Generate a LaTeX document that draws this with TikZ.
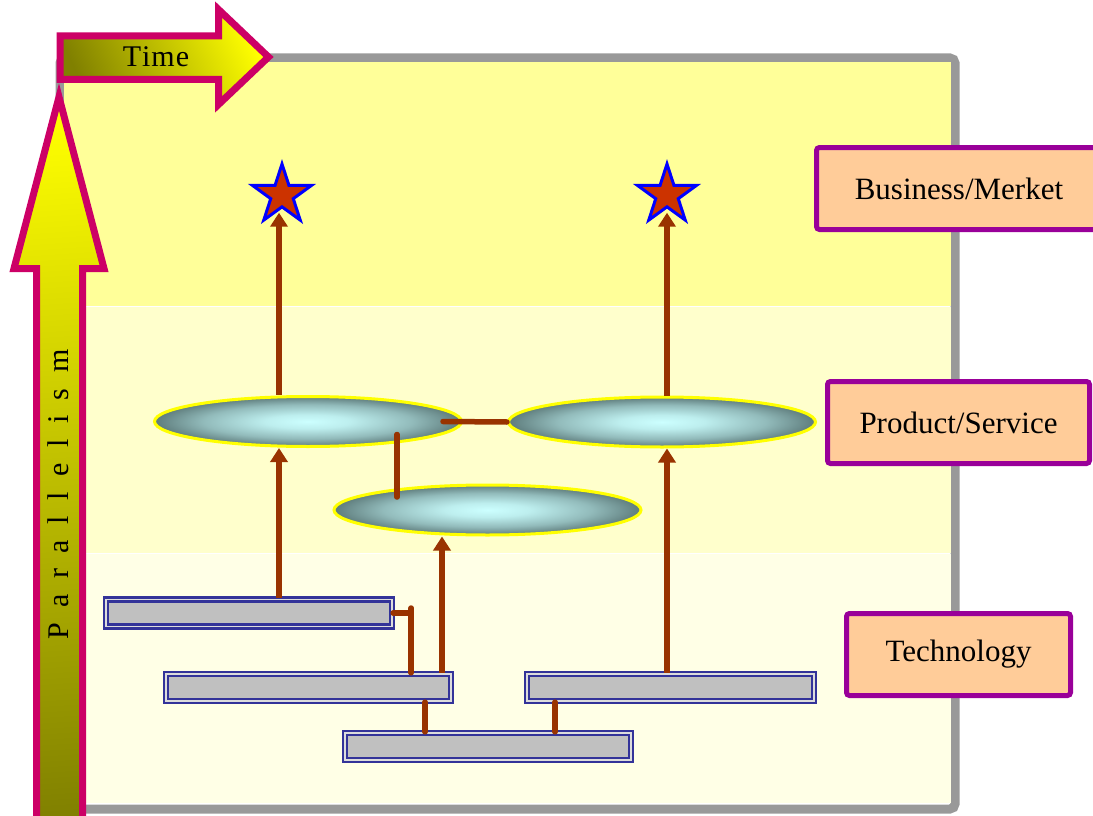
\documentclass[tikz,border=0pt]{standalone}
\usepackage{fontspec}
\setmainfont{Liberation Serif}
\usetikzlibrary{shapes.geometric,arrows.meta,calc}

\definecolor{bandA}{HTML}{FFFF99}
\definecolor{bandB}{HTML}{FFFFCC}
\definecolor{bandC}{HTML}{FFFFE6}
\definecolor{framegray}{HTML}{999999}
\definecolor{arrowedge}{HTML}{CC0066}
\definecolor{darkolive}{HTML}{808000}
\definecolor{brightyellow}{HTML}{FFFF00}
\definecolor{labeledge}{HTML}{990099}
\definecolor{labelfill}{HTML}{FFCC99}
\definecolor{barblue}{HTML}{333399}
\definecolor{bargray}{HTML}{C0C0C0}
\definecolor{barlight}{HTML}{DCDCDC}
\definecolor{linkbrown}{HTML}{993300}
\definecolor{starfill}{HTML}{CC3300}
\definecolor{staredge}{HTML}{0000FF}
\definecolor{discA}{HTML}{CCFFFF}
\definecolor{discB}{HTML}{BDEEEE}
\definecolor{discC}{HTML}{92BBBB}
\definecolor{discD}{HTML}{5E7C7C}

% soft radial fill for the product discs
\pgfdeclareradialshading{discshade}{\pgfpoint{0bp}{0bp}}{%
  color(0bp)=(discA); color(7bp)=(discB); color(17bp)=(discC);
  color(25bp)=(discD); color(50bp)=(discD)}

\newcommand\lgap{\hspace{15.5pt}}

\begin{document}
\begin{tikzpicture}[x=1pt,y=-1pt,
  disc/.style={ellipse, draw=brightyellow, line width=3pt,
    shading=discshade,
    minimum width=307pt, minimum height=50pt, inner sep=0pt},
  goal/.style={star, star points=5, star point ratio=2.618,
    minimum size=62pt, inner sep=0pt, fill=starfill,
    draw=staredge, line width=3pt},
  techbar/.style={rectangle, draw=barblue, line width=2.4pt,
    double=barlight, double distance=1.8pt, fill=bargray,
    minimum height=27pt, inner sep=0pt},
  layer/.style={rectangle, draw=labeledge, line width=5pt,
    fill=labelfill, rounded corners=3pt, inner sep=0pt,
    minimum height=82pt, font=\fontsize{31}{37}\selectfont},
  link/.style={draw=linkbrown, line width=5.5pt, line cap=round},
  flow/.style={draw=linkbrown, line width=5.5pt,
    -{Triangle[length=14pt,width=17pt]}}]

\useasboundingbox (0,0) rectangle (1093,816);

% outer frame and the three horizontal bands
\draw[framegray, line width=9pt, rounded corners=5pt, fill=white]
  (60,58) rectangle (955,809);
\fill[bandA] (64,62.5) rectangle (950.5,305.5);
\fill[bandB] (64,307) rectangle (950.5,552.5);
\fill[bandC] (64,554) rectangle (950.5,803);

% x positions of the vertical connectors
\coordinate (xa) at (279,0);
\coordinate (xb) at (442,0);
\coordinate (xc) at (667,0);
\coordinate (xd) at (443,0);
\coordinate (xf) at (425,0);
\coordinate (xg) at (555,0);

% goals
\node[goal] (s1) at (282,195) {};
\node[goal] (s2) at (667,195) {};

% products / services
\node[disc, shade] (e1) at (308,421.5) {};
\node[disc, shade] (e2) at (662,422) {};
\node[disc, shade] (e3) at (487.5,510) {};

% technologies
\node[techbar, minimum width=286pt] (b1) at (249,613) {};
\node[techbar, minimum width=285pt] (b2) at (308.5,687.5) {};
\node[techbar, minimum width=287pt] (b3) at (670.5,687.5) {};
\node[techbar, minimum width=286pt] (b4) at (488,746.5) {};

% layer labels
\node[layer, minimum width=285pt] (lb) at (959,188.5) {Business/Merket};
\node[layer, minimum width=262pt] (lp) at (958.5,422.5) {Product/Service};
\node[layer, minimum width=224pt] (lt) at (958.5,654.5) {Technology};

% upward flows
\draw[flow] (b1.north -| xa) -- (e1.south -| xa);
\draw[flow, shorten >=4pt] (e1.north -| xa) -- (s1.south -| xa);
\draw[flow] (b2.north -| xb) -- (e3.south -| xb);
\draw[flow] (b3.north -| xc) -- (e2.south -| xc);
\draw[flow, shorten >=4pt] (e2.north -| xc) -- (s2.south -| xc);

% links between products
\draw[link] (e1.center -| xd) -- (e2.west);
\draw[link] ($(e1.center)+(89,13)$) -- ($(e3.center)+(-90.5,-13)$);

% links between technologies
\coordinate (hook) at ($(b1.east)+(18,0)$);
\draw[link] (b1.east) -- (hook);
\draw[link] ([yshift=5pt]hook) -- (b2.north -| hook);
\draw[link] (b2.south -| xf) -- (b4.north -| xf);
\draw[link] (b3.south -| xg) -- (b4.north -| xg);

% time axis
\draw[arrowedge, line width=7pt, miter limit=10,
      top color=brightyellow, bottom color=darkolive, shading angle=-65]
  (60,36) -- (218.5,36) -- (218.5,9.5) -- (268.5,57) -- (218.5,104.5)
  -- (218.5,79.5) -- (60,79.5) -- cycle;
\node[font=\fontsize{30}{36}\selectfont] (time) at (156,57)
  {T\kern1pt i\kern1pt m\kern1pt e};

% parallelism axis
\draw[arrowedge, line width=7pt, miter limit=10,
      top color=brightyellow, bottom color=darkolive, shading angle=4]
  (36.5,840) -- (36.5,268.5) -- (14,268.5) -- (59,97) -- (104,268.5)
  -- (82.5,268.5) -- (82.5,840) -- cycle;
\node[rotate=90, anchor=base, font=\fontsize{30}{36}\selectfont] (par)
  at (68,494.5)
  {P\lgap a\lgap r\lgap a\lgap l\lgap l\lgap e\lgap l\lgap i\lgap s\lgap m};

\end{tikzpicture}
\end{document}
